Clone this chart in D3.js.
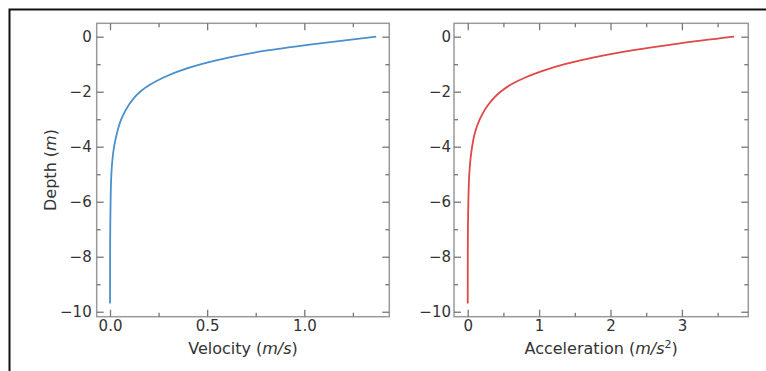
<!DOCTYPE html>
<html>
<head>
  <meta charset="utf-8">
  <script src="https://d3js.org/d3.v7.min.js"></script>
  <style>
    body { margin: 0; background: #fff; }
    .axis text { font-family: "DejaVu Sans", sans-serif; font-size: 15px; fill: #333; }
    .axis line { stroke: #777; stroke-width: 1.3; }
    .axis path { display: none; }
    .title { font-family: "DejaVu Sans", sans-serif; font-size: 16px; fill: #333; }
  </style>
</head>
<body>
  <div id="chart"></div>
  <script>
    // depth samples (m)
    const depth = [0, -0.25, -0.5, -0.75, -1, -1.25, -1.5, -1.75, -2, -2.5, -3, -3.5, -4, -4.5, -5, -6, -7, -8, -9, -9.7];
    // velocity (m/s) at each depth
    const velocity = [1.37, 1.07, 0.81, 0.615, 0.47, 0.355, 0.27, 0.205, 0.155, 0.095, 0.058, 0.036, 0.021, 0.012, 0.007, 0.003, 0.0012, 0.0005, 0.0002, 0.0001];
    // acceleration (m/s^2) at each depth
    const acceleration = [3.73, 2.95, 2.30, 1.77, 1.36, 1.04, 0.79, 0.60, 0.46, 0.28, 0.17, 0.10, 0.062, 0.037, 0.022, 0.009, 0.003, 0.001, 0.0005, 0.0003];

    const yTicks = [0, -2, -4, -6, -8, -10];
    const yMinor = [-1, -3, -5, -7, -9];
    const velTicks = [0, 0.5, 1.0];
    const velMinor = [0.25, 0.75, 1.25];
    const accTicks = [0, 1, 2, 3];
    const accMinor = [0.5, 1.5, 2.5, 3.5];

    const width = 766, height = 371;
    const plotTop = 23.3, plotBottom = 316.7;

    const svg = d3.select("#chart").append("svg")
      .attr("width", width)
      .attr("height", height);

    // outer black frame (top and left edges visible)
    svg.append("path")
      .attr("d", `M9.5,${height} V9.5 H${width}`)
      .attr("fill", "none")
      .attr("stroke", "#111")
      .attr("stroke-width", 2);

    const y = d3.scaleLinear().domain([-10.18, 0.487]).range([plotBottom, plotTop]);

    function panel(opts) {
      const x = d3.scaleLinear().domain(opts.xDomain).range([opts.left, opts.right]);
      const g = svg.append("g");

      // frame
      g.append("rect")
        .attr("x", opts.left).attr("y", plotTop)
        .attr("width", opts.right - opts.left).attr("height", plotBottom - plotTop)
        .attr("fill", "none").attr("stroke", "#9a9a9a").attr("stroke-width", 1.5);

      // major + minor ticks, inward on all four sides
      const sides = [
        [d3.axisBottom(x).tickValues(opts.ticks).tickFormat(opts.fmt), `translate(0,${plotBottom})`, true],
        [d3.axisTop(x).tickValues(opts.ticks).tickFormat(""), `translate(0,${plotTop})`, false],
        [d3.axisLeft(y).tickValues(yTicks).tickFormat(d3.format("d")), `translate(${opts.left},0)`, true],
        [d3.axisRight(y).tickValues(yTicks).tickFormat(""), `translate(${opts.right},0)`, false]
      ];
      sides.forEach(([ax, tr, labels], i) => {
        ax.tickSizeInner(-7).tickSizeOuter(0).tickPadding(i === 0 ? 4 : opts.yPad);
        const a = g.append("g").attr("class", "axis").attr("transform", tr).call(ax);
        if (!labels) a.selectAll("text").remove();
      });
      const minorSides = [
        [d3.axisBottom(x).tickValues(opts.minor), `translate(0,${plotBottom})`],
        [d3.axisTop(x).tickValues(opts.minor), `translate(0,${plotTop})`],
        [d3.axisLeft(y).tickValues(yMinor), `translate(${opts.left},0)`],
        [d3.axisRight(y).tickValues(yMinor), `translate(${opts.right},0)`]
      ];
      minorSides.forEach(([ax, tr]) => {
        ax.tickSizeInner(-4).tickSizeOuter(0).tickFormat("");
        g.append("g").attr("class", "axis").attr("transform", tr).call(ax);
      });

      // curve
      const line = d3.line()
        .x((d, i) => x(opts.values[i]))
        .y(d => y(d))
        .curve(d3.curveMonotoneY);
      g.append("path")
        .datum(depth)
        .attr("d", line)
        .attr("fill", "none")
        .attr("stroke", opts.color)
        .attr("stroke-width", 1.8);

      // x title
      const t = g.append("text").attr("class", "title")
        .attr("x", (opts.left + opts.right) / 2).attr("y", 354)
        .attr("text-anchor", "middle");
      t.append("tspan").text(opts.label + " (");
      t.append("tspan").attr("font-style", "italic").text("m/s");
      if (opts.sup) t.append("tspan").attr("dy", -6).attr("font-size", 11).text("2");
      t.append("tspan").attr("dy", opts.sup ? 6 : 0).text(")");
      return g;
    }

    panel({
      left: 96.7, right: 389.3,
      xDomain: [-0.0685, 1.4375],
      ticks: velTicks, minor: velMinor, fmt: d3.format(".1f"),
      values: velocity, color: "#4a90cc", label: "Velocity", sup: false, yPad: 5
    });

    panel({
      left: 454, right: 748.3,
      xDomain: [-0.192, 3.93],
      ticks: accTicks, minor: accMinor, fmt: d3.format("d"),
      values: acceleration, color: "#e04848", label: "Acceleration", sup: true, yPad: 3
    });

    // y title
    const yt = svg.append("text").attr("class", "title")
      .attr("transform", `translate(56,${(plotTop + plotBottom) / 2}) rotate(-90)`)
      .attr("text-anchor", "middle");
    yt.append("tspan").text("Depth (");
    yt.append("tspan").attr("font-style", "italic").text("m");
    yt.append("tspan").text(")");
  </script>
</body>
</html>
